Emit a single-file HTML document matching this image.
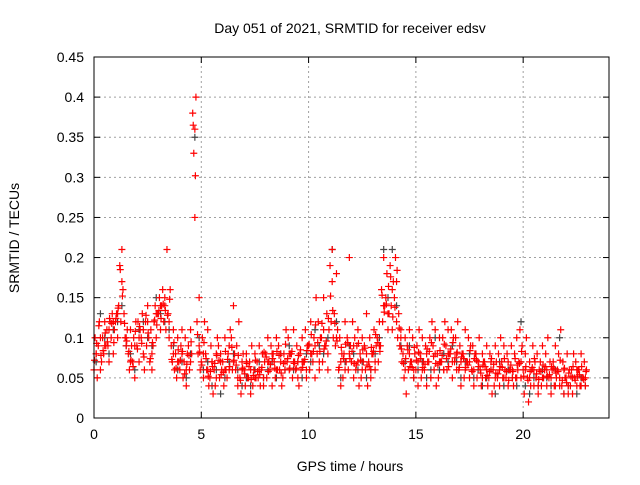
<!DOCTYPE html>
<html><head><meta charset="utf-8"><style>
body{margin:0;background:#fff}
svg text{font-family:"Liberation Sans",sans-serif;font-size:14px;fill:#000}
</style></head><body>
<svg id="chart" width="640" height="480" viewBox="0 0 640 480" xmlns="http://www.w3.org/2000/svg">
<rect width="640" height="480" fill="#fff"/>
<text x="350" y="33" text-anchor="middle">Day 051 of 2021, SRMTID for receiver edsv</text>
<text x="350" y="471" text-anchor="middle">GPS time / hours</text>
<text transform="translate(19,238) rotate(-90)" text-anchor="middle">SRMTID / TECUs</text>
<g id="grid"></g><g id="ticks"></g><g id="gray"></g><g id="red"></g>
<rect x="94" y="57" width="515" height="361" fill="none" stroke="#000" stroke-width="1"/>
</svg>
<script>
const xTicks=[0,5,10,15,20];
const yTicks=[0,0.05,0.1,0.15,0.2,0.25,0.3,0.35,0.4,0.45];
const yTickLabels=["0","0.05","0.1","0.15","0.2","0.25","0.3","0.35","0.4","0.45"];
const times=[0,0.2,0.4,0.6,0.8,1.0,1.2,1.4,1.6,1.8,2.0,2.2,2.4,2.6,2.8,3.0,3.2,3.4,3.6,3.8,4.0,4.2,4.4,4.6,4.8,5.0,5.2,5.4,5.6,5.8,6.0,6.2,6.4,6.6,6.8,7.0,7.2,7.4,7.6,7.8,8.0,8.2,8.4,8.6,8.8,9.0,9.2,9.4,9.6,9.8,10.0,10.2,10.4,10.6,10.8,11.0,11.2,11.4,11.6,11.8,12.0,12.2,12.4,12.6,12.8,13.0,13.2,13.4,13.6,13.8,14.0,14.2,14.4,14.6,14.8,15.0,15.2,15.4,15.6,15.8,16.0,16.2,16.4,16.6,16.8,17.0,17.2,17.4,17.6,17.8,18.0,18.2,18.4,18.6,18.8,19.0,19.2,19.4,19.6,19.8,20.0,20.2,20.4,20.6,20.8,21.0,21.2,21.4,21.6,21.8,22.0,22.2,22.4,22.6,22.8];
const redA=[0.06,0.09,0.10,0.11,0.10,0.12,0.19,0.13,0.08,0.07,0.09,0.10,0.12,0.07,0.12,0.13,0.16,0.21,0.09,0.08,0.06,0.07,0.09,0.38,0.12,0.07,0.08,0.05,0.06,0.09,0.07,0.05,0.10,0.06,0.05,0.06,0.05,0.04,0.07,0.06,0.08,0.06,0.07,0.09,0.05,0.07,0.08,0.06,0.08,0.07,0.09,0.07,0.08,0.10,0.09,0.19,0.13,0.06,0.05,0.10,0.07,0.06,0.08,0.09,0.07,0.08,0.10,0.16,0.15,0.19,0.15,0.13,0.08,0.09,0.07,0.06,0.08,0.06,0.07,0.09,0.08,0.07,0.09,0.08,0.07,0.06,0.08,0.07,0.06,0.08,0.06,0.07,0.05,0.06,0.05,0.07,0.05,0.06,0.08,0.07,0.06,0.05,0.06,0.05,0.07,0.06,0.05,0.07,0.06,0.04,0.05,0.04,0.05,0.06,0.05];
const redB=[0.10,0.12,0.08,0.09,0.13,0.13,0.12,0.10,0.06,0.10,0.12,0.13,0.09,0.11,0.14,0.15,0.12,0.13,0.07,0.05,0.09,0.10,0.06,0.33,0.08,0.10,0.06,0.09,0.04,0.05,0.04,0.08,0.06,0.09,0.03,0.04,0.07,0.06,0.05,0.08,0.05,0.09,0.05,0.06,0.08,0.10,0.05,0.09,0.06,0.11,0.06,0.10,0.12,0.07,0.13,0.12,0.09,0.10,0.08,0.06,0.12,0.09,0.05,0.06,0.10,0.11,0.07,0.12,0.18,0.14,0.20,0.09,0.05,0.06,0.10,0.09,0.05,0.09,0.10,0.06,0.05,0.10,0.06,0.11,0.10,0.09,0.05,0.10,0.09,0.05,0.04,0.05,0.08,0.04,0.08,0.05,0.08,0.09,0.05,0.11,0.03,0.02,0.09,0.08,0.04,0.08,0.07,0.04,0.08,0.07,0.08,0.06,0.07,0.04,0.07];
const redC=[0.08,0.06,0.12,0.07,0.08,0.10,0.21,0.09,0.11,0.05,0.07,0.08,0.14,0.06,0.10,0.11,0.14,0.10,0.11,0.10,0.11,0.04,0.11,0.25,0.15,0.05,0.11,0.07,0.08,0.07,0.10,0.06,0.14,0.04,0.07,0.08,0.03,0.08,0.09,0.04,0.10,0.04,0.10,0.08,0.07,0.06,0.11,0.07,0.10,0.05,0.12,0.05,0.06,0.15,0.06,0.21,0.18,0.04,0.12,0.20,0.05,0.11,0.10,0.13,0.05,0.06,0.12,0.20,0.11,0.11,0.12,0.11,0.10,0.11,0.05,0.04,0.10,0.04,0.05,0.11,0.10,0.06,0.11,0.05,0.06,0.04,0.11,0.05,0.04,0.07,0.08,0.09,0.06,0.09,0.04,0.09,0.04,0.05,0.10,0.05,0.08,0.07,0.04,0.03,0.09,0.04,0.03,0.09,0.04,0.03,0.03,0.03,0.04,0.08,0.04];
const redD=[0.05,0.07,0.09,0.12,0.11,0.14,0.16,0.11,0.09,0.12,0.11,0.06,0.10,0.09,0.13,0.14,0.11,0.16,0.06,0.07,0.05,0.08,0.08,0.40,0.06,0.12,0.04,0.03,0.10,0.06,0.06,0.11,0.08,0.12,0.08,0.05,0.09,0.05,0.04,0.07,0.07,0.08,0.06,0.04,0.11,0.08,0.07,0.04,0.07,0.09,0.08,0.15,0.10,0.09,0.11,0.10,0.11,0.08,0.07,0.09,0.10,0.04,0.07,0.04,0.08,0.09,0.09,0.14,0.13,0.17,0.10,0.07,0.03,0.07,0.08,0.11,0.07,0.07,0.12,0.04,0.07,0.12,0.08,0.10,0.12,0.08,0.07,0.09,0.08,0.10,0.07,0.04,0.03,0.07,0.10,0.06,0.06,0.04,0.06,0.09,0.10,0.04,0.07,0.06,0.05,0.10,0.06,0.05,0.11,0.05,0.06,0.08,0.06,0.05,0.06];
const redMid=[0.08,0.10,0.09,0.11,0.12,0.13,0.17,0.10,0.07,0.09,0.10,0.11,0.12,0.08,0.13,0.14,0.15,0.12,0.08,0.07,0.08,0.06,0.07,0.36,0.09,0.08,0.06,0.07,0.05,0.08,0.06,0.09,0.07,0.05,0.06,0.07,0.06,0.05,0.06,0.05,0.07,0.08,0.06,0.07,0.06,0.08,0.07,0.05,0.07,0.06,0.08,0.09,0.07,0.11,0.08,0.17,0.10,0.07,0.06,0.08,0.09,0.07,0.06,0.08,0.06,0.07,0.09,0.14,0.13,0.16,0.17,0.10,0.06,0.08,0.06,0.07,0.06,0.08,0.05,0.08,0.07,0.06,0.08,0.07,0.08,0.07,0.06,0.07,0.06,0.07,0.05,0.06,0.07,0.05,0.06,0.05,0.07,0.06,0.05,0.07,0.06,0.05,0.06,0.04,0.05,0.06,0.05,0.04,0.05,0.06,0.04,0.05,0.06,0.04,0.05];
const redE=[0.072,0.115,0.084,0.095,0.118,0.124,0.185,0.118,0.083,0.064,0.086,0.093,0.128,0.074,0.122,0.134,0.142,0.128,0.073,0.062,0.072,0.055,0.078,0.365,0.104,0.066,0.074,0.058,0.068,0.072,0.057,0.073,0.088,0.066,0.047,0.055,0.064,0.053,0.058,0.063,0.076,0.067,0.062,0.078,0.068,0.074,0.083,0.062,0.085,0.073,0.092,0.083,0.094,0.118,0.096,0.152,0.118,0.063,0.074,0.094,0.083,0.066,0.072,0.087,0.064,0.083,0.094,0.153,0.142,0.176,0.138,0.112,0.068,0.085,0.063,0.072,0.074,0.067,0.083,0.077,0.066,0.078,0.074,0.086,0.075,0.063,0.074,0.066,0.058,0.072,0.056,0.064,0.058,0.067,0.055,0.063,0.058,0.066,0.074,0.068,0.052,0.047,0.063,0.055,0.058,0.064,0.054,0.062,0.058,0.047,0.044,0.052,0.047,0.054,0.048];
const redF=[0.093,0.078,0.106,0.124,0.094,0.137,0.152,0.096,0.072,0.108,0.114,0.076,0.106,0.094,0.116,0.124,0.134,0.148,0.094,0.085,0.083,0.067,0.095,0.302,0.082,0.094,0.052,0.064,0.078,0.054,0.083,0.064,0.072,0.078,0.062,0.068,0.048,0.072,0.054,0.082,0.058,0.074,0.083,0.056,0.092,0.062,0.068,0.078,0.063,0.084,0.104,0.116,0.083,0.086,0.124,0.134,0.096,0.088,0.092,0.074,0.068,0.093,0.085,0.066,0.088,0.104,0.083,0.132,0.164,0.126,0.184,0.086,0.074,0.064,0.088,0.082,0.063,0.086,0.094,0.068,0.084,0.092,0.064,0.094,0.082,0.076,0.063,0.084,0.074,0.064,0.066,0.053,0.074,0.056,0.064,0.074,0.047,0.058,0.066,0.083,0.064,0.058,0.074,0.048,0.066,0.052,0.064,0.056,0.072,0.062,0.056,0.064,0.052,0.064,0.058];
const grayMid=[0.07,0.13,0.10,0.08,0.11,0.12,0.14,0.09,0.08,0.06,0.11,0.12,0.10,0.09,0.15,0.13,0.12,0.11,0.09,0.06,0.07,0.05,0.08,0.35,0.10,0.06,0.07,0.04,0.06,0.03,0.05,0.07,0.08,0.06,0.04,0.05,0.04,0.06,0.07,0.05,0.06,0.07,0.05,0.08,0.06,0.09,0.06,0.07,0.05,0.08,0.07,0.11,0.09,0.08,0.10,0.21,0.12,0.05,0.07,0.09,0.08,0.06,0.07,0.05,0.06,0.08,0.10,0.21,0.15,0.21,0.14,0.09,0.07,0.09,0.05,0.06,0.07,0.05,0.06,0.10,0.06,0.08,0.07,0.09,0.07,0.05,0.07,0.08,0.05,0.06,0.04,0.05,0.06,0.03,0.07,0.04,0.06,0.05,0.04,0.12,0.04,0.03,0.05,0.04,0.06,0.05,0.04,0.06,0.10,0.03,0.04,0.05,0.03,0.05,0.04];
const X0=94,X1=609,Y0=418,Y1=57,XMAX=24,YMAX=0.45;
function xs(v){return X0+v/XMAX*(X1-X0);}
function ys(v){return Y0-v/YMAX*(Y0-Y1);}
const NS="http://www.w3.org/2000/svg";
const grid=document.getElementById('grid'),ticks=document.getElementById('ticks');
function mk(tag,attrs,parent){const e=document.createElementNS(NS,tag);for(const k in attrs)e.setAttribute(k,attrs[k]);parent.appendChild(e);return e;}
yTicks.forEach((v,i)=>{
  const y=ys(v);
  if(i>0&&i<yTicks.length-1){const g=mk('line',{x1:X0,x2:X1,y1:y,y2:y,stroke:'#a0a0a0','stroke-dasharray':'2,3'},grid);
  
  }
  mk('line',{x1:X0,x2:X0+6,y1:y,y2:y,stroke:'#000'},ticks);
  mk('line',{x1:X1-6,x2:X1,y1:y,y2:y,stroke:'#000'},ticks);
  const t=mk('text',{x:X0-10,y:y+5,'text-anchor':'end'},ticks);t.textContent=yTickLabels[i];
  
  
});
xTicks.forEach(v=>{
  const x=xs(v);
  if(v>0){const g=mk('line',{x1:x,x2:x,y1:Y0,y2:Y1,stroke:'#a0a0a0','stroke-dasharray':'2,3'},grid);
  
  }
  mk('line',{x1:x,x2:x,y1:Y0,y2:Y0-6,stroke:'#000'},ticks);
  mk('line',{x1:x,x2:x,y1:Y1,y2:Y1+6,stroke:'#000'},ticks);
  const t=mk('text',{x:x,y:Y0+21,'text-anchor':'middle'},ticks);t.textContent=String(v);
  
  
});
function plot(ts,vals,off,color,parent,name){
  let d='';
  const n=Math.min(ts.length,vals.length);
  for(let i=0;i<n;i++){const x=xs(ts[i]+off),y=ys(vals[i]);d+=`M${x-3.5} ${y}h7M${x} ${y-3.5}v7`;}
  const p=mk('path',{d:d,stroke:color,'stroke-width':1.2,fill:'none'},parent);
  
  
}
const gG=document.getElementById('gray'),gR=document.getElementById('red');
plot(times,grayMid,0.1,'#444',gG,'gray-points');
plot(times,redA,0,'#f00',gR,'red-points-a');
plot(times,redB,0.05,'#f00',gR,'red-points-b');
plot(times,redC,0.1,'#f00',gR,'red-points-c');
plot(times,redD,0.15,'#f00',gR,'red-points-d');
plot(times,redMid,0.1,'#f00',gR,'red-points-mid');
plot(times,redE,0.025,'#f00',gR,'red-points-e');
plot(times,redF,0.125,'#f00',gR,'red-points-f');
</script>
</body></html>
